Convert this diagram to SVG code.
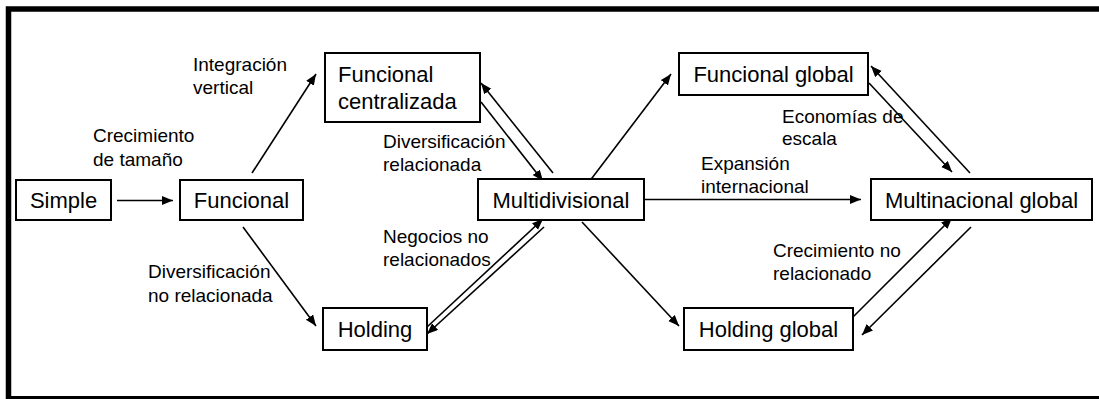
<svg xmlns="http://www.w3.org/2000/svg" width="1099" height="399" viewBox="0 0 1099 399">
  <style>
    .box { fill: #ffffff; stroke: #000000; stroke-width: 2; }
    .node-text { font-family: "Liberation Sans", Arial, sans-serif; font-size: 22px; fill: #000000; }
    .label { font-family: "Liberation Sans", Arial, sans-serif; font-size: 19px; fill: #000000; }
    .edge { fill: none; stroke: #000000; stroke-width: 1.6; marker-end: url(#arrow); }
  </style>
  <defs>
    <marker id="arrow" markerUnits="userSpaceOnUse" markerWidth="12" markerHeight="10" refX="11" refY="4.5" orient="auto">
      <path d="M0,0 L11,4.5 L0,9 z" fill="#000000"/>
    </marker>
  </defs>

  <rect x="0" y="0" width="1099" height="399" fill="#ffffff"/>
  <!-- outer frame: top, left and bottom edges (right edge runs off the page) -->
  <path d="M1099,9 H8.5 V399" fill="none" stroke="#000000" stroke-width="5.5"/>
  <line x1="8.5" y1="397.5" x2="1099" y2="397.5" stroke="#000000" stroke-width="3"/>

  <!-- connectors -->
  <g id="connectors">
    <line class="edge" x1="117" y1="200.5" x2="173" y2="200.5"/>
    <line class="edge" x1="252" y1="173" x2="316" y2="74"/>
    <line class="edge" x1="243" y1="227" x2="316" y2="326"/>
    <line class="edge" x1="481" y1="102" x2="543" y2="181"/>
    <line class="edge" x1="553" y1="173" x2="481" y2="83"/>
    <line class="edge" x1="589" y1="182" x2="671" y2="74"/>
    <line class="edge" x1="644" y1="199.5" x2="861" y2="199.5"/>
    <line class="edge" x1="427" y1="327" x2="543" y2="219"/>
    <line class="edge" x1="544" y1="227" x2="427" y2="334"/>
    <line class="edge" x1="582" y1="222" x2="679" y2="326"/>
    <line class="edge" x1="869" y1="83" x2="952" y2="172"/>
    <line class="edge" x1="970" y1="173" x2="871" y2="66"/>
    <line class="edge" x1="853" y1="317" x2="952" y2="218"/>
    <line class="edge" x1="971" y1="227" x2="862" y2="335"/>
  </g>

  <!-- transition labels -->
  <g id="labels">
    <text class="label" x="193" y="71">Integración</text>
    <text class="label" x="193" y="94">vertical</text>
    <text class="label" x="93" y="142">Crecimiento</text>
    <text class="label" x="93" y="166">de tamaño</text>
    <text class="label" x="148" y="278">Diversificación</text>
    <text class="label" x="148" y="302">no relacionada</text>
    <text class="label" x="383" y="148">Diversificación</text>
    <text class="label" x="383" y="171">relacionada</text>
    <text class="label" x="383" y="243">Negocios no</text>
    <text class="label" x="383" y="266">relacionados</text>
    <text class="label" x="701" y="170">Expansión</text>
    <text class="label" x="701" y="193">internacional</text>
    <text class="label" x="782" y="123">Economías de</text>
    <text class="label" x="782" y="145">escala</text>
    <text class="label" x="773" y="257">Crecimiento no</text>
    <text class="label" x="773" y="280">relacionado</text>
  </g>

  <g id="simple">
    <rect class="box" x="16" y="180" width="95" height="40"/>
    <text class="node-text" x="63.5" y="207.5" text-anchor="middle">Simple</text>
  </g>
  <g id="funcional">
    <rect class="box" x="180" y="180" width="123" height="40"/>
    <text class="node-text" x="241.5" y="207.5" text-anchor="middle">Funcional</text>
  </g>
  <g id="funcional-centralizada">
    <rect class="box" x="325" y="53" width="155" height="69"/>
    <text class="node-text" x="338" y="82">Funcional</text>
    <text class="node-text" x="338" y="109">centralizada</text>
  </g>
  <g id="multidivisional">
    <rect class="box" x="478" y="179" width="166" height="41"/>
    <text class="node-text" x="561" y="207.5" text-anchor="middle">Multidivisional</text>
  </g>
  <g id="holding">
    <rect class="box" x="323" y="308" width="104" height="42"/>
    <text class="node-text" x="375" y="337" text-anchor="middle">Holding</text>
  </g>
  <g id="funcional-global">
    <rect class="box" x="679" y="53" width="189" height="42"/>
    <text class="node-text" x="773.5" y="82" text-anchor="middle">Funcional global</text>
  </g>
  <g id="multinacional-global">
    <rect class="box" x="871" y="179" width="221" height="41"/>
    <text class="node-text" x="981.5" y="207.5" text-anchor="middle">Multinacional global</text>
  </g>
  <g id="holding-global">
    <rect class="box" x="684" y="308" width="169" height="42"/>
    <text class="node-text" x="768.5" y="337" text-anchor="middle">Holding global</text>
  </g>
</svg>
